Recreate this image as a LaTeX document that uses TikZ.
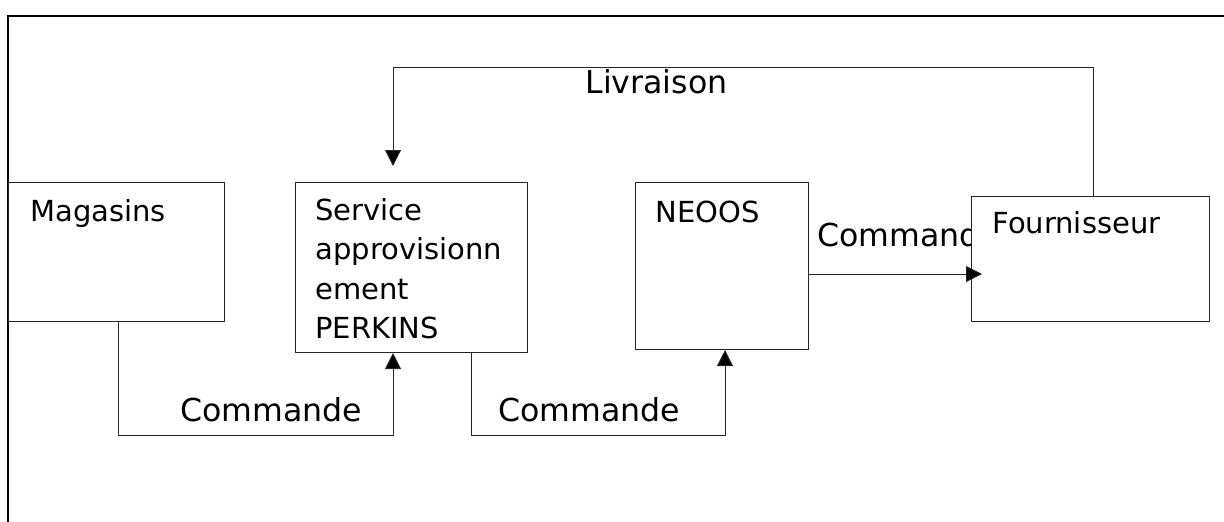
\documentclass[tikz,border=0pt]{standalone}
\usepackage{fontspec}
\setmainfont{DejaVu Sans}
\usetikzlibrary{arrows.meta,calc}
\begin{document}
\begin{tikzpicture}[x=0.5pt,y=-0.5pt,
  box/.style={draw=black!85, fill=white, line width=0.5pt, inner sep=0pt, anchor=north west},
  lbl/.style={font=\fontsize{15.8}{19}\selectfont, inner sep=0pt, anchor=base west},
  txt/.style={font=\fontsize{14.5}{19.65}\selectfont, inner sep=0pt, align=left},
  conn/.style={draw=black!85, line width=0.5pt},
  tip/.style={-{Triangle[width=8pt,length=8pt,fill=black]}}]
\useasboundingbox (0,0) rectangle (1224,521);
% frame
\draw[line width=0.6pt] (8,530) -- (8,16) -- (1230,16);
% connector labels (drawn below boxes)
\node[lbl] (lc1) at (180,421) {Commande};
\node[lbl] (lc2) at (498,421) {Commande};
\node[lbl] (lc3) at (817,246) {Commande};
\node[lbl] (lliv) at (585,93) {Livraison};
% boxes
\node[box, minimum width=108pt, minimum height=69.5pt] (mag) at (8,182) {};
\node[box, minimum width=116pt, minimum height=85pt] (svc) at (295,182) {};
\node[box, minimum width=86.5pt, minimum height=83.5pt] (neo) at (635,182) {};
\node[box, minimum width=119pt, minimum height=62.5pt] (frn) at (971,196) {};
% box texts
\node[txt, anchor=base west] (tmag) at (30,221) {Magasins};
\node[txt, anchor=north west] (tsvc) at (315,198) {Service\\approvisionn\\ement\\PERKINS};
\node[txt, anchor=base west] (tneo) at (655,222) {NEOOS};
\node[txt, anchor=base west] (tfrn) at (992,233) {Fournisseur};
% bend coordinates
\coordinate (k1) at (118,435);
\coordinate (k2) at (393,435);
\coordinate (k3) at (471,435);
\coordinate (k4) at (725,435);
\coordinate (k5) at (808,274);
\coordinate (k6) at (1093,67);
\coordinate (k7) at (393,67);
% connectors
\draw[conn,tip] (mag.south -| k1) -- (k1) -- (k2) -- (svc.south -| k2);
\draw[conn,tip] (svc.south -| k3) -- (k3) -- (k4) -- (neo.south -| k4);
\draw[conn,tip,shorten >=-5.5pt] (neo.east |- k5) -- (frn.west |- k5);
\draw[conn,tip,shorten >=8pt] (frn.north -| k6) -- (k6) -- (k7) -- (svc.north -| k7);
\end{tikzpicture}
\end{document}
